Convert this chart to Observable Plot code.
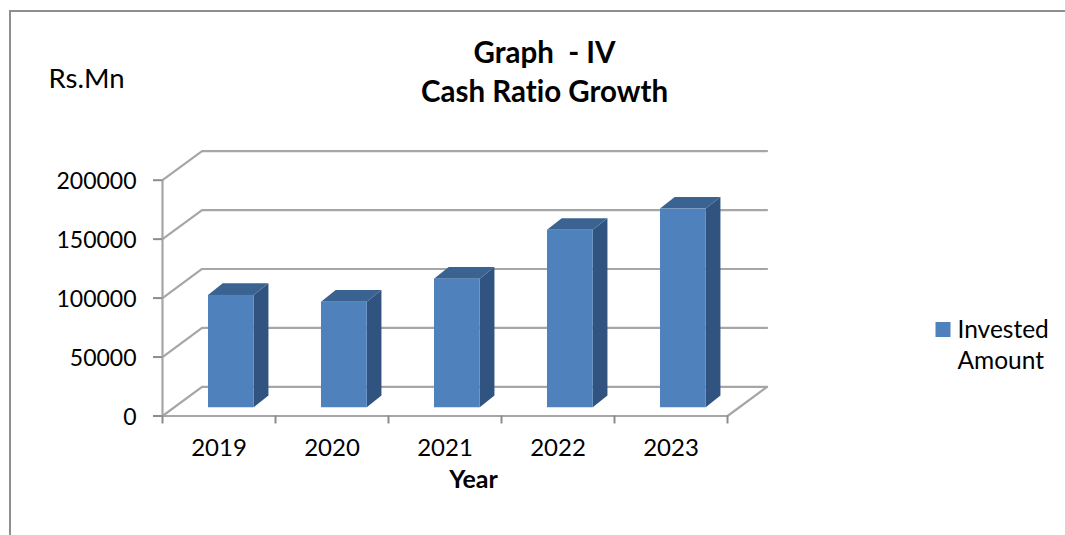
<!DOCTYPE html>
<html>
<head>
<meta charset="utf-8">
<script src="https://cdn.jsdelivr.net/npm/d3@7"></script>
<script src="https://cdn.jsdelivr.net/npm/@observablehq/plot@0.6"></script>
<style>
html,body{margin:0;padding:0;background:#fff;overflow:hidden}
#wrap{position:relative;width:1065px;height:535px;overflow:hidden}
#frame{position:absolute;left:9px;top:10px;width:1100px;height:600px;border-left:2px solid #8f8f8f;border-top:2px solid #8f8f8f}
#chart{position:absolute;left:0;top:0}
svg{background:transparent!important}
</style>
</head>
<body>
<div id="wrap"><div id="frame"></div><div id="chart"></div></div>
<script>
const years = ["2019","2020","2021","2022","2023"];
const invested = [95300, 89500, 109000, 150500, 168500];
const yTicks = [0, 50000, 100000, 150000, 200000];
const seriesName = ["Invested", "Amount"];
const titleLines = ["Graph  - IV", "Cash Ratio Growth"];

// projection of the chart's depth, in data units
const wallDx = 0.35, wallDy = 24700;      // back wall relative to front plane
const barDx = 0.13, barDy = 9900;         // bar depth
const barLeft = 0.407, barW = 0.405, barBase = 7000; // bar placement in its slot

const FONT = "Lato, Carlito, sans-serif";
const grey = "#a6a6a6";
const ML = 162, MT = 179.7, MR = 338, MB = 119.5;

const bars = invested.map((v, i) => ({
  year: years[i], v,
  xL: i + barLeft, xR: i + barLeft + barW,
  base: barBase, top: barBase + v
}));
const side = bars.flatMap(b => [
  {year: b.year, x: b.xR, y1: b.base, y2: b.top},
  {year: b.year, x: b.xR + barDx, y1: b.base + barDy, y2: b.top + barDy}
]);
const cap = bars.flatMap(b => [
  {year: b.year, y: b.top, x1: b.xL, x2: b.xR},
  {year: b.year, y: b.top + barDy, x1: b.xL + barDx, x2: b.xR + barDx}
]);
const wall = yTicks.flatMap(t => [
  {t, x: 0, y: t},
  {t, x: wallDx, y: t + wallDy},
  {t, x: years.length + wallDx, y: t + wallDy}
]);
const floorEdge = [
  {x: 0, y: 0}, {x: years.length, y: 0}, {x: years.length + wallDx, y: wallDy}
];
const label = (text, {left, base, ...o}) => Plot.text([text], {
  text: d => d, frameAnchor: "top-left", fontFamily: FONT, fill: "#000",
  lineAnchor: "bottom", dx: left - ML, dy: base - MT, ...o
});

const plot = Plot.plot({
  width: 1065, height: 535,
  marginTop: MT, marginRight: MR, marginBottom: MB, marginLeft: ML,
  style: {background: "transparent", overflow: "visible", fontVariantLigatures: "none"},
  x: {type: "linear", domain: [0, years.length]},
  y: {type: "linear", domain: [0, 200000]},
  marks: [
    Plot.line(wall, {x: "x", y: "y", z: "t", stroke: grey, strokeWidth: 2.2}),
    Plot.line(floorEdge, {x: "x", y: "y", stroke: grey, strokeWidth: 2.2}),
    Plot.ruleX([0], {y1: 0, y2: 200000, stroke: grey, strokeWidth: 2.2}),
    Plot.axisY({
      ticks: yTicks, tickSize: 9, tickFormat: () => "", label: null,
      stroke: "#8c8c8c", strokeWidth: 2, anchor: "left"
    }),
    Plot.axisY({
      ticks: yTicks, tickSize: 0, tickPadding: 26, label: null, dy: 1.5,
      tickFormat: d => String(d), fontSize: 23, fontFamily: FONT, fill: "#000",
      anchor: "left"
    }),
    Plot.axisX({
      ticks: d3.range(years.length + 1), tickSize: 8, tickFormat: () => "", label: null,
      stroke: "#8c8c8c", strokeWidth: 2, anchor: "bottom"
    }),
    Plot.axisX({
      ticks: years.map((_, i) => i + 0.5), tickSize: 0, tickPadding: 23, label: null,
      tickFormat: d => years[Math.floor(d)], fontSize: 24, fontFamily: FONT, fill: "#000",
      anchor: "bottom"
    }),
    Plot.areaY(side, {x: "x", y1: "y1", y2: "y2", z: "year", fill: "#30547f"}),
    Plot.areaX(cap, {y: "y", x1: "x1", x2: "x2", z: "year", fill: "#3b6391"}),
    Plot.rect(bars, {x1: "xL", x2: "xR", y1: "base", y2: "top", fill: "#4f81bd"}),
    label(titleLines[0], {left: 544, base: 62, textAnchor: "middle", fontWeight: "bold", fontSize: 29.5}),
    label(titleLines[1], {left: 544, base: 101, textAnchor: "middle", fontWeight: "bold", fontSize: 29.5}),
    label("Rs.Mn", {left: 48, base: 87, textAnchor: "start", fontSize: 27.5}),
    label("Year", {left: 473, base: 487, textAnchor: "middle", fontWeight: "bold", fontSize: 25}),
    Plot.dot([seriesName[0]], {frameAnchor: "top-left", dx: 942.5 - ML, dy: 329 - MT, symbol: "square", r: 8.46, fill: "#4f81bd", stroke: "none"}),
    label(seriesName[0], {left: 957, base: 337, textAnchor: "start", fontSize: 24.5}),
    label(seriesName[1], {left: 957, base: 368.5, textAnchor: "start", fontSize: 24.5})
  ]
});
document.getElementById("chart").appendChild(plot);
</script>
</body>
</html>
